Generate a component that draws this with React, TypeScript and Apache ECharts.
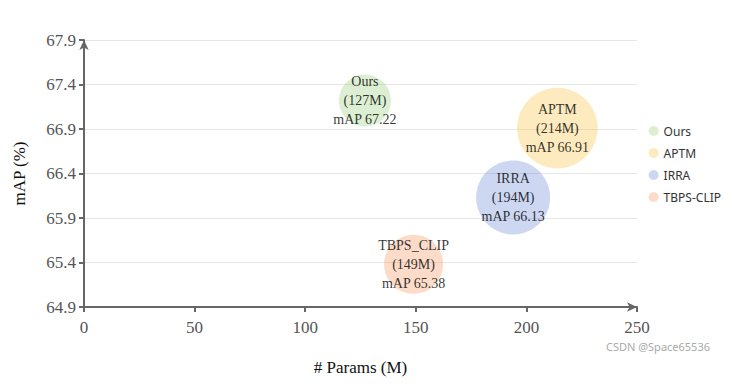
import React, { useEffect, useRef } from "react";
import * as echarts from "echarts";

const models = ["Ours", "APTM", "IRRA", "TBPS-CLIP"];
const labelNames = ["Ours", "APTM", "IRRA", "TBPS_CLIP"];
const params = [127, 214, 194, 149];
const mAP = [67.22, 66.91, 66.13, 65.38];
const yTicksMin = 64.9;
const yTicksMax = 67.9;
const colors = [
  "rgba(145,204,117,0.4)",
  "rgba(250,200,88,0.48)",
  "rgba(100,130,210,0.4)",
  "rgba(245,150,95,0.42)",
];

const serif = "'Liberation Serif', 'Times New Roman', serif";

export default function App() {
  const ref = useRef<HTMLDivElement>(null);
  useEffect(() => {
    document.body.style.margin = "0";
    if (!ref.current) return;
    const chart = echarts.init(ref.current, undefined, { renderer: "svg" });
    chart.setOption({
      animation: false,
      grid: { left: 84, right: 95, top: 40, bottom: 81 },
      legend: {
        orient: "vertical",
        right: 6,
        top: 120,
        itemGap: 10,
        itemWidth: 10,
        itemHeight: 10,
        icon: "circle",
        textStyle: { fontSize: 12, color: "#333", fontFamily: "'Noto Sans', sans-serif" },
        data: models,
      },
      xAxis: {
        type: "value",
        min: 0,
        max: 250,
        interval: 50,
        name: "# Params (M)",
        nameLocation: "middle",
        nameGap: 52,
        nameTextStyle: { fontFamily: serif, fontSize: 17, color: "#111" },
        axisLine: { show: true, symbol: ["none", "arrow"], symbolSize: [7, 10], lineStyle: { color: "#666", width: 2 } },
        axisTick: { show: true, length: 5, lineStyle: { color: "#666", width: 2 } },
        axisLabel: { fontFamily: serif, fontSize: 17, color: "#555", margin: 12 },
        splitLine: { show: false },
      },
      yAxis: {
        type: "value",
        min: yTicksMin,
        max: yTicksMax,
        interval: 0.5,
        name: "mAP (%)",
        nameLocation: "middle",
        nameGap: 56,
        nameTextStyle: { fontFamily: serif, fontSize: 17, color: "#111" },
        axisLine: { show: true, symbol: ["none", "arrow"], symbolSize: [7, 10], lineStyle: { color: "#666", width: 2 } },
        axisTick: { show: true, length: 5, lineStyle: { color: "#666", width: 2 } },
        axisLabel: {
          fontFamily: serif,
          fontSize: 17,
          color: "#555",
          margin: 8,
          formatter: (v: number) => v.toFixed(1),
        },
        splitLine: { show: true, lineStyle: { color: "#e6e6e6", width: 1 } },
      },
      series: models.map((m, i) => ({
        name: m,
        type: "scatter",
        data: [[params[i], mAP[i], params[i]]],
        symbolSize: (v: number[]) => 10 + v[2] * 0.33,
        itemStyle: { color: colors[i] },
        label: {
          show: true,
          position: "inside",
          fontFamily: serif,
          fontSize: 14,
          lineHeight: 19,
          color: "#000",
          formatter: () => `${labelNames[i]}\n(${params[i]}M)\nmAP ${mAP[i].toFixed(2)}`,
        },
        emphasis: { disabled: true },
      })),
      graphic: [
        {
          type: "text",
          right: 22,
          top: 341,
          style: { text: "CSDN @Space65536", fontSize: 11, fill: "#aaa", fontFamily: "'Noto Sans', sans-serif" },
        },
      ],
    });
    return () => chart.dispose();
  }, []);
  return <div ref={ref} style={{ width: 732, height: 388 }} />;
}
